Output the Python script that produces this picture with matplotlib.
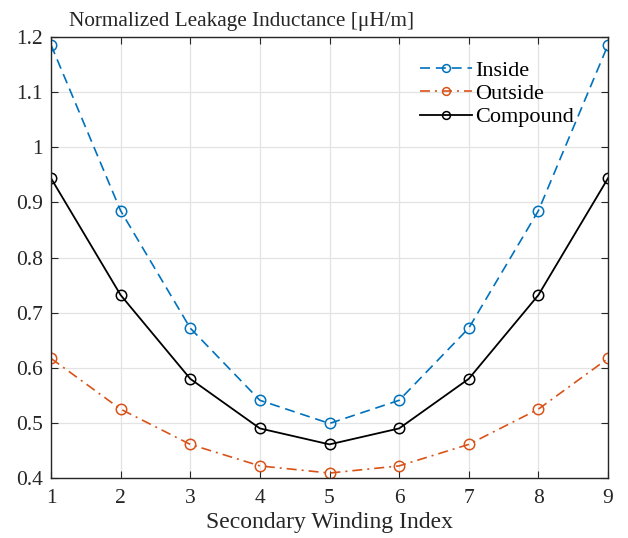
import matplotlib.pyplot as plt

plt.rcParams['font.family'] = ['Liberation Serif', 'DejaVu Serif']

index = [1, 2, 3, 4, 5, 6, 7, 8, 9]
inside = [1.186, 0.885, 0.672, 0.541, 0.499, 0.541, 0.672, 0.885, 1.186]
outside = [0.617, 0.525, 0.461, 0.422, 0.409, 0.422, 0.461, 0.525, 0.617]
compound = [0.944, 0.732, 0.580, 0.490, 0.461, 0.490, 0.580, 0.732, 0.944]
yticks = [0.4, 0.5, 0.6, 0.7, 0.8, 0.9, 1.0, 1.1, 1.2]
ytick_labels = ['0.4', '0.5', '0.6', '0.7', '0.8', '0.9', '1', '1.1', '1.2']


def main():
    fig = plt.figure(figsize=(6.28, 5.38), dpi=100)
    ax = fig.add_axes([0.0812, 0.1115, 0.8870, 0.8195])
    ax.plot(index, inside, '--o', color='#0072BD', mfc='none', ms=7.5, lw=1.2, mew=1.1,
            label='Inside', dashes=(6, 3.5))
    ax.plot(index, outside, '-.o', color='#D95319', mfc='none', ms=7.5, lw=1.2, mew=1.1,
            label='Outside', dashes=(6, 3, 1.2, 3))
    ax.plot(index, compound, '-o', color='black', mfc='none', ms=7.5, lw=1.3, mew=1.1,
            label='Compound')
    ax.set_xlim(1, 9)
    ax.set_ylim(0.4, 1.2)
    ax.set_xticks(index)
    ax.set_yticks(yticks)
    ax.set_yticklabels(ytick_labels)
    ax.grid(True, color='#e3e3e3', lw=0.9)
    ax.set_axisbelow(True)
    for s in ax.spines.values():
        s.set_color('#262626')
        s.set_linewidth(1.0)
    ax.tick_params(direction='in', top=True, right=True, labelsize=15.5, colors='#262626', length=5)
    ax.tick_params(axis='x', pad=8)
    ax.tick_params(axis='y', pad=6)
    fig.text(0.384, 1 - 26 / 538, 'Normalized Leakage Inductance [μH/m]', fontsize=15.3,
             ha='center', va='baseline', color='#262626')
    ax.set_xlabel('Secondary Winding Index', fontsize=17, labelpad=3, color='#262626')
    ax.legend(loc='upper left', bbox_to_anchor=(420 / 628, 1 - 60 / 538), bbox_transform=fig.transFigure,
              frameon=False, fontsize=16, handlelength=2.35, handletextpad=0.15, labelspacing=0.13,
              borderpad=0, borderaxespad=0, markerscale=0.75)
    fig.savefig('out.png', dpi=100)


if __name__ == "__main__":
    main()
